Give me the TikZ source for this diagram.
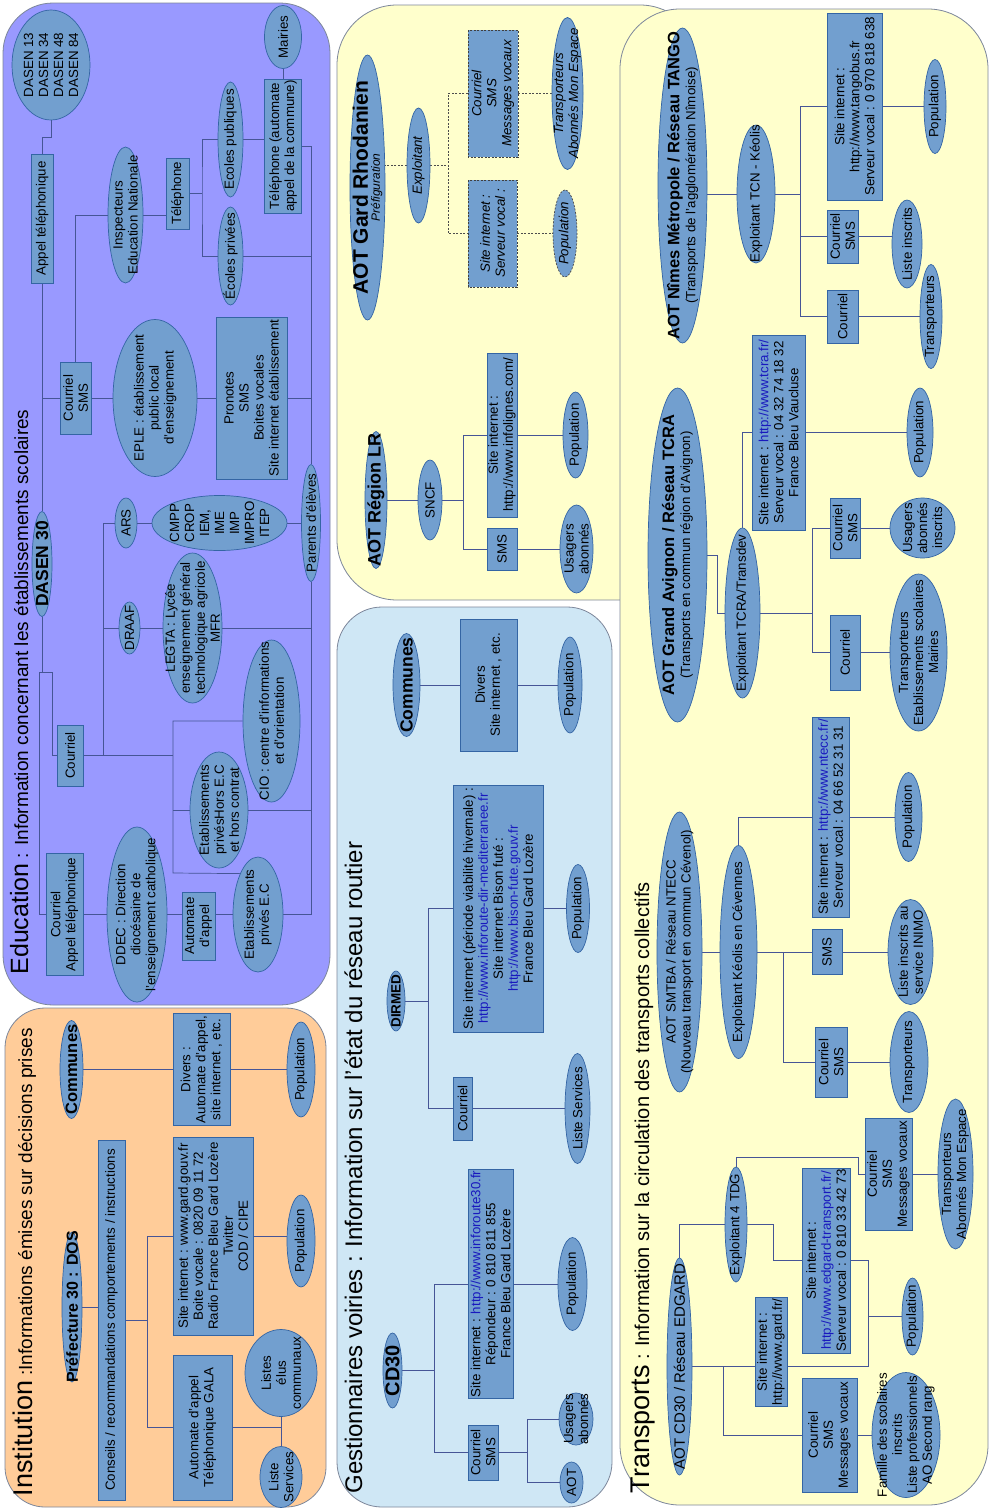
\documentclass[tikz,border=0pt]{standalone}
\usepackage{fontspec}
\setmainfont{Liberation Sans}
\usepackage{xcolor}
\usepackage{tikz}
\usetikzlibrary{shapes.geometric}
\definecolor{nodefill}{RGB}{114,159,207}
\definecolor{nodeline}{RGB}{52,101,164}
\definecolor{edufill}{RGB}{153,153,255}
\definecolor{instfill}{RGB}{255,204,153}
\definecolor{roadfill}{RGB}{207,231,245}
\definecolor{trfill}{RGB}{255,255,204}
\definecolor{panelline}{RGB}{125,135,155}
\definecolor{wireblue}{RGB}{70,85,150}
\definecolor{linkblue}{RGB}{25,25,190}
\newcommand{\nodetext}{\fontsize{13.3}{15}\selectfont}
\newcommand{\weblink}[1]{\textcolor{linkblue}{#1}}
\pgfdeclarelayer{panels}
\pgfdeclarelayer{wires}
\pgfsetlayers{panels,wires,main}

\begin{document}
\begin{tikzpicture}[x=1pt, y=-1pt, font=\nodetext,
  every node/.style={align=center, rotate=90},
  box/.style={draw=nodeline, fill=nodefill, line width=0.7pt, inner sep=1pt},
  oval/.style={ellipse, draw=nodeline, fill=nodefill, line width=0.7pt, inner sep=-100pt},
  dashbox/.style={box, draw=black!75, dash pattern=on 2pt off 1.5pt, font=\nodetext\itshape},
  wh/.style 2 args={minimum width=#1, minimum height=#2},
  hd/.style={font=\fontsize{#1}{#1}\selectfont\bfseries}, hd/.default=16.5,
  wire/.style={draw=wireblue, line width=0.7pt},
  dotwire/.style={draw=black!70, line width=0.7pt, dash pattern=on 2pt off 1.5pt},
  panel/.style={draw=panelline, line width=0.8pt}]
\useasboundingbox (0,0) rectangle (992,1510);
\begin{pgfonlayer}{panels}
\fill[white] (0,0) rectangle (992,1510);
\draw[panel, fill=edufill, rounded corners=50] (3,3) rectangle (330,1005);
\draw[panel, fill=instfill, rounded corners=40] (5,1008) rectangle (326,1507);
\draw[panel, fill=trfill, rounded corners=60] (337,5) rectangle (700,600);
\draw[panel, fill=roadfill, rounded corners=45] (337,607) rectangle (612,1507);
\draw[panel, fill=trfill, rounded corners=60] (620,9) rectangle (988,1505);
\end{pgfonlayer}

\node[anchor=base west, font=\fontsize{19}{23}\selectfont] (tedu) at (28,978) {{\fontsize{25}{30}\selectfont Education} : Information concernant les établissements scolaires};
\node[oval, wh={110}{78}] (dasenx) at (51,65) {DASEN 13\\DASEN 34\\DASEN 48\\DASEN 84};
\node[box, wh={129}{22}] (appel) at (42,218.5) {Appel téléphonique};
\node[oval, wh={136}{35}] (insp) at (125.5,215) {Inspecteurs\\Education Nationale};
\node[box, wh={71}{23}] (tel) at (177.5,193.5) {Téléphone};
\node[oval, wh={115}{25}] (ecpub) at (230.5,139.5) {Ecoles publiques};
\node[oval, wh={98}{25}] (ecpriv) at (230.5,256) {Écoles privées};
\node[oval, wh={63}{37}] (mairies) at (283,37) {Mairies};
\node[box, wh={134}{37}] (telcom) at (283,146) {Téléphone (automate\\appel de la commune)};
\node[box, wh={72}{31}] (edusms) at (75.5,398) {Courriel\\SMS};
\node[oval, wh={157}{84}] (eple) at (155,398) {EPLE : établissement\\public local\\d'enseignement};
\node[box, wh={162}{71}] (pronote) at (251.5,398) {Pronotes\\SMS\\Boites vocales\\Site internet établissement};
\node[oval, hd=17.5, wh={105}{20}] (dasen) at (42,564) {DASEN 30};
\node[oval, wh={50}{22}] (ars) at (126,523) {ARS};
\node[oval, wh={55}{135}] (cmpp) at (219.5,523) {CMPP\\CROP\\IEM,\\IME\\IMP\\IMPRO\\ITEP};
\node[oval, wh={117}{19}] (parents) at (311,523) {Parents d'élèves};
\node[oval, wh={52}{21}] (draaf) at (129.5,628) {DRAAF};
\node[oval, wh={150}{59}] (legta) at (192.5,628) {LEGTA : Lycée\\enseignement général\\technologique agricole\\MFR};
\node[oval, wh={162}{57}] (cio) at (271.5,721) {CIO : centre d'informations\\et d'orientation};
\node[oval, wh={116}{58}] (hors) at (219,810) {Etablissements\\privésHors E.C\\et hors contrat};
\node[oval, wh={115}{50}] (ecpec) at (258,914.5) {Etablissements\\privés E.C};
\node[box, wh={61}{26}] (educour) at (70,755.5) {Courriel};
\node[box, wh={122}{37}] (courappel) at (64.5,914.5) {Courriel\\Appel téléphonique};
\node[oval, wh={175}{60}] (ddec) at (137,914.5) {DDEC : Direction\\diocésaine de\\l'enseignement catholique};
\node[box, wh={68}{33}] (autom) at (198.5,926) {Automate\\d'appel};

\node[anchor=base west, font=\fontsize{19}{23}\selectfont] (tinst) at (32,1500) {{\fontsize{27}{30}\selectfont Institution} :Informations émises sur décisions prises};
\node[oval, hd=16, wh={150}{20}] (pref) at (72,1307) {Préfecture 30 : DOS};
\node[oval, hd, wh={98}{23}] (icomm) at (71.5,1069.5) {Communes};
\node[box, wh={360}{27}] (conseils) at (111.5,1320) {Conseils / recommandations comportements / instructions};
\node[box, wh={145}{59}] (gala) at (202.5,1427.5) {Automate d'appel\\Téléphonique GALA};
\node[box, wh={198}{80}] (isite) at (213,1236) {Site internet : www.gard.gouv.fr\\Boite vocale : 0820 09 11 72\\Radio France Bleu Gard Lozère\\Twitter\\COD / CIPE};
\node[oval, wh={92}{28}] (ipop2) at (301,1241) {Population};
\node[oval, wh={87}{72}] (listes) at (281,1373) {Listes\\élus\\communaux};
\node[oval, wh={61}{42}] (lserv) at (281,1477) {Liste\\Services};
\node[box, wh={112}{57}] (idivers) at (201.5,1069.5) {Divers :\\Automate d'appel,\\site internet , etc.};
\node[oval, wh={95}{28}] (ipop1) at (301,1069.5) {Population};

\node[oval, wh={265}{35}] (gardrh) at (367.5,187.5) {{\fontsize{21}{21}\selectfont\bfseries AOT Gard Rhodanien}\\[-3pt]{\fontsize{12}{12}\selectfont\itshape Préfiguration}};
\node[oval, wh={115}{23}, font=\nodetext\itshape] (exgr) at (418.5,165.5) {Exploitant};
\node[dashbox, wh={127}{50}] (grcour) at (493,93.5) {Courriel\\SMS\\Messages vocaux};
\node[dashbox, wh={107}{49}] (grsite) at (492.5,233.5) {Site internet :\\Serveur vocal :};
\node[oval, wh={152}{31}, font=\nodetext\itshape] (grtrans) at (567.5,93.5) {Transporteurs\\Abonnés Mon Espace};
\node[oval, wh={87}{24}, draw=black!70, dash pattern=on 2pt off 1.5pt, font=\nodetext\itshape] (grpop) at (565,233.5) {Population};
\node[oval, hd=18, wh={137}{22}] (lr) at (376,500) {AOT Région LR};
\node[oval, wh={80}{24}] (sncf) at (430,500) {SNCF};
\node[box, wh={164}{30}] (lrsite) at (502,435) {Site internet :\\http://www.infolignes.com/};
\node[box, wh={42}{30}] (lrsms) at (502,549) {SMS};
\node[oval, wh={86}{25}] (lrpop) at (575.5,435) {Population};
\node[oval, wh={88}{33}] (lrusag) at (576.5,549) {Usagers\\abonnés};

\node[anchor=base west, font=\fontsize{24}{28}\selectfont] (troad) at (362,1497) {Gestionnaires voiries : Information sur l'état du réseau routier};
\node[oval, hd=17.5, wh={103}{27}] (gcomm) at (406.5,685) {Communes};
\node[box, wh={132}{57}] (gdivers) at (488.5,685) {Divers\\Site internet , etc.};
\node[oval, wh={96}{24}] (gpop3) at (570,685) {Population};
\node[oval, hd=13.5, wh={60}{18}] (dirmed) at (396,1001) {DIRMED};
\node[box, wh={247}{90}] (dsite) at (498,908.5) {Site internet (période viabilité hivernale) :\\\weblink{http://www.inforoute-dir-mediterranee.fr}\\Site internet Bison futé :\\\weblink{http://www.bison-fute.gouv.fr}\\France Bleu Gard Lozère};
\node[oval, wh={88}{23}] (dpop) at (578,908.5) {Population};
\node[box, wh={63}{19}] (dcour) at (462.5,1108.5) {Courriel};
\node[oval, wh={110}{25}] (dserv) at (577.5,1108.5) {Liste Services};
\node[oval, hd=20, wh={75}{19}] (cd30) at (392.5,1370.5) {CD30};
\node[box, wh={227}{45}] (csite) at (490.5,1284) {Site internet : \weblink{http://www.inforoute30.fr}\\Répondeur : 0 810 811 855\\France Bleu Gard Lozère};
\node[oval, wh={93}{29}] (cpop) at (572.5,1284) {Population};
\node[box, wh={55}{30}] (csms) at (483,1452.5) {Courriel\\SMS};
\node[oval, wh={52}{34}] (cusag) at (576,1419) {Usagers\\abonnés};
\node[oval, wh={41}{23}] (caot) at (571.5,1482.5) {AOT};

\node[anchor=base west, font=\fontsize{20}{24}\selectfont] (ttr) at (649,1497) {{\fontsize{27}{30}\selectfont Transports} : Information sur la circulation des transports collectifs};
\node[oval, wh={315}{49}] (nimes) at (682.5,185.5) {{\fontsize{16.5}{18}\selectfont\bfseries AOT Nîmes Métropole / Réseau TANGO}\\[1pt](Transports de l'agglomération Nîmoise)};
\node[oval, wh={138}{38}] (exnim) at (756,194) {Exploitant TCN - Kéolis};
\node[box, wh={187}{55}] (nsite) at (854.5,106.5) {Site internet :\\http://www.tangobus.fr\\Serveur vocal : 0 970 818 638};
\node[oval, wh={94}{22}] (npop) at (935,106.5) {Population};
\node[box, wh={53}{31}] (nsms) at (842.5,236.5) {Courriel\\SMS};
\node[oval, wh={88}{30}] (ninsc) at (907,244) {Liste inscrits};
\node[box, wh={53}{31}] (ncour) at (842.5,316.5) {Courriel};
\node[oval, wh={104}{22}] (ntrans) at (931,316.5) {Transporteurs};
\node[oval, wh={334}{59}] (avig) at (677.5,555) {{\fontsize{16.5}{18}\selectfont\bfseries AOT Grand Avignon / Réseau TCRA}\\[1pt](Transports en commun région d'Avignon)};
\node[oval, wh={170}{35}] (exav) at (742.5,613) {Exploitant TCRA/Transdev};
\node[box, wh={195}{53}] (asite) at (778.5,432.5) {Site internet : \weblink{http://www.tcra.fr/}\\Serveur vocal : 04 32 74 18 32\\France Bleu Vaucluse};
\node[oval, wh={89}{26}] (apop) at (920,432.5) {Population};
\node[box, wh={60}{30}] (asms) at (845,528) {Courriel\\SMS};
\node[oval, wh={60}{65}] (ausag) at (922.5,528) {Usagers\\abonnés\\inscrits};
\node[box, wh={75}{30}] (acour) at (845,652.5) {Courriel};
\node[oval, wh={157}{57}] (atrans) at (918.5,652.5) {Transporteurs\\Etablissements scolaires\\Mairies};
\node[oval, wh={280}{45}] (smtba) at (679.5,952) {AOT SMTBA / Réseau NTECC\\(Nouveau transport en commun Cévenol)};
\node[oval, wh={213}{37}] (exkc) at (738.5,952) {Exploitant Kéolis en Cévennes};
\node[box, wh={200}{37}] (ksite) at (830.5,817) {Site internet : \weblink{http://www.ntecc.fr/}\\Serveur vocal : 04 66 52 31 31};
\node[oval, wh={89}{27}] (kpop) at (908.5,817) {Population};
\node[box, wh={45}{30}] (ksms) at (827,952) {SMS};
\node[oval, wh={105}{45}] (kinimo) at (910.5,952) {Liste inscrits au\\service INIMO};
\node[box, wh={70}{32}] (kcour) at (831,1062) {Courriel\\SMS};
\node[oval, wh={101}{38}] (ktrans) at (909,1062) {Transporteurs};
\node[oval, wh={217}{25}, font=\fontsize{15}{17}\selectfont] (edgard) at (679.5,1366.5) {AOT CD30 / Réseau EDGARD};
\node[oval, wh={115}{22}] (ex4) at (736,1224.5) {Exploitant 4 TDG};
\node[box, wh={185}{48}] (esite) at (826,1260.5) {Site internet :\\\weblink{http://www.edgard-transport.fr/}\\Serveur vocal : 0 810 33 42 73};
\node[oval, wh={77}{21}] (epop) at (912.5,1316.5) {Population};
\node[box, wh={112}{47}] (ecour1) at (888.5,1174) {Courriel\\SMS\\Messages vocaux};
\node[oval, wh={150}{35}] (etrans) at (955.5,1174) {Transporteurs\\Abonnés Mon Espace};
\node[box, wh={90}{32}] (egard) at (771,1352) {Site internet :\\http://www.gard.fr/};
\node[box, wh={114}{55}] (ecour2) at (829.5,1435) {Courriel\\SMS\\Messages vocaux};
\node[oval, wh={125}{68}] (efam) at (906,1435) {Famille des scolaires\\inscrits\\Liste professionnels\\AO Second rang};

\begin{pgfonlayer}{wires}
\draw[wire] (dasenx) |- (42,137) -- (appel);
\draw[wire] (appel) -- (dasen);
\draw[wire] (42,398) -- (edusms) -- (eple) -- (pronote) -- (pronote -| parents);
\draw[wire] (edusms) |- (insp) -- (insp -| tel);
\draw[wire] (tel) -- (202,193.5);
\draw[wire] (ecpub) -| (202,193.5) |- (ecpriv) -- (ecpriv -| parents);
\draw[wire] (ecpub) -- (ecpub -| telcom);
\draw[wire] (mairies) -- (telcom);
\draw[wire] (telcom) -| (parents) |- (ecpec);
\draw[wire] (ars) -- (cmpp) -- (parents);
\draw[wire] (draaf) -- (legta) -- (legta -| parents);
\draw[wire] (dasen) -- (42,672);
\draw[wire] (39,672) -- (52,672) |- (educour) -- (173,755.5);
\draw[wire] (39,672) |- (courappel) -- (ecpec);
\draw[wire] (ars) -| (103,755.5);
\draw[wire] (draaf) -- (103,628);
\draw[wire] (cio) -| (173,873) -- (ecpec.north east);
\draw[wire] (173,810) -- (hors) -- (hors -| parents);

\draw[wire] (pref) -- (pref -| conseils);
\draw[wire] (conseils) -- (147,1320);
\draw[wire] (isite) -| (147,1427.5) -- (gala) -- (gala -| listes);
\draw[wire] (isite) -- (isite -| ipop2);
\draw[wire] (listes) -- (lserv);
\draw[wire] (icomm) -- (idivers) -- (ipop1);

\draw[dotwire] (exgr) -- (exgr -| gardrh);
\draw[dotwire] (exgr) -- (448,165.5);
\draw[dotwire] (grcour) -| (448,233.5) -- (grsite) -- (grpop);
\draw[dotwire] (grcour) -- (grtrans);
\draw[wire] (lr) -- (sncf) -- (463,500);
\draw[wire] (lrsite) -| (463,549) -- (lrsms) -- (lrusag);
\draw[wire] (lrsite) -- (lrpop);

\draw[wire] (gcomm) -- (gdivers) -- (gpop3);
\draw[wire] (dirmed) -- (428,1001);
\draw[wire] (dsite) -| (428,1108.5) -- (dcour) -- (dserv);
\draw[wire] (dsite) -- (dpop);
\draw[wire] (cd30) -- (434,1370.5);
\draw[wire] (csite) -| (434,1452.5) -- (csms) -- (527,1452.5);
\draw[wire] (csite) -- (cpop);
\draw[wire] (cusag) -| (527,1482.5) -- (caot);

\draw[wire] (exnim) -- (exnim -| nimes);
\draw[wire] (exnim) -- (800,194);
\draw[wire] (nsite) -| (800,316.5) -- (ncour) -- (ntrans);
\draw[wire] (nsite) -- (npop);
\draw[wire] (800,236.5) -- (nsms) -- (nsms -| ninsc);
\draw[wire] (avig) -| (717,613) -- (exav) -- (812,613);
\draw[wire] (exav) |- (asite) -- (apop);
\draw[wire] (asms) -| (812,652.5) -- (acour) -- (atrans);
\draw[wire] (asms) -- (ausag);
\draw[wire] (smtba) -- (exkc) -- (ksms) -- (kinimo);
\draw[wire] (exkc) |- (ksite) -- (kpop);
\draw[wire] (783,952) |- (kcour) -- (ktrans);
\draw[wire] (edgard) |- (ex4) |- (858,1157) |- (ecour1) -- (etrans);
\draw[wire] (ex4) -| (773,1260.5) -- (esite) -| (868,1366.5);
\draw[wire] (edgard) -- (868,1366.5);
\draw[wire] (868,1316.5) -- (epop);
\draw[wire] (723,1366.5) |- (ecour2) -- (efam);
\end{pgfonlayer}
\end{tikzpicture}
\end{document}
